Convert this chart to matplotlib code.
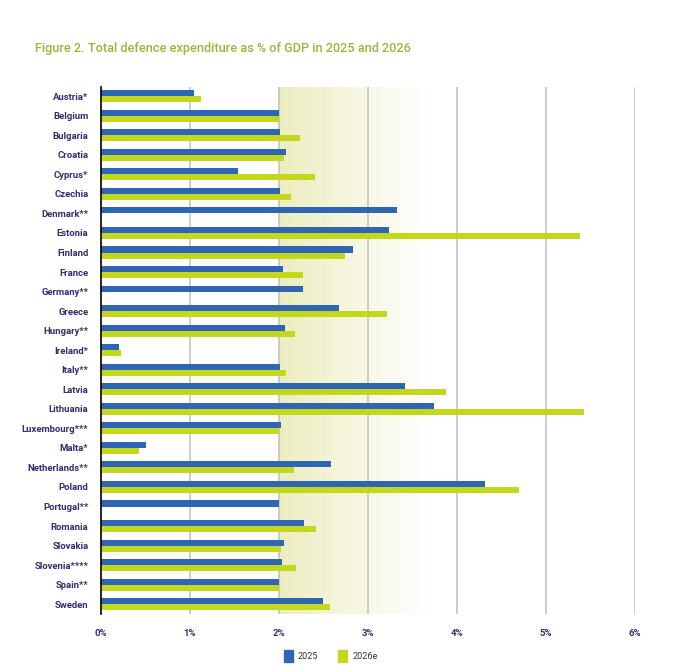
import numpy as np
import matplotlib.pyplot as plt
from matplotlib.colors import LinearSegmentedColormap
from matplotlib.patches import Patch

countries = ["Austria*", "Belgium", "Bulgaria", "Croatia", "Cyprus*", "Czechia",
             "Denmark**", "Estonia", "Finland", "France", "Germany**", "Greece",
             "Hungary**", "Ireland*", "Italy**", "Latvia", "Lithuania",
             "Luxembourg***", "Malta*", "Netherlands**", "Poland", "Portugal**",
             "Romania", "Slovakia", "Slovenia****", "Spain**", "Sweden"]
gdp_2025 = [1.05, 2.00, 2.01, 2.08, 1.54, 2.01, 3.33, 3.24, 2.83, 2.05, 2.27, 2.67,
            2.07, 0.20, 2.01, 3.42, 3.74, 2.02, 0.51, 2.59, 4.32, 2.00, 2.28, 2.06,
            2.04, 2.00, 2.50]
# NaN = no 2026 estimate shown
gdp_2026 = [1.12, 2.00, 2.24, 2.06, 2.40, 2.14, np.nan, 5.38, 2.74, 2.27, np.nan, 3.21,
            2.18, 0.23, 2.08, 3.88, 5.43, 2.00, 0.43, 2.17, 4.70, np.nan, 2.42, 2.02,
            2.19, 2.00, 2.57]
xticks = [0, 1, 2, 3, 4, 5, 6]
xticklabels = ["0%", "1%", "2%", "3%", "4%", "5%", "6%"]

blue = "#2F66B3"
green = "#C3D81C"
navy = "#2E2F72"
title_col = "#9BB53A"

plt.rcParams['font.family'] = ['Roboto', 'DejaVu Sans']

fig = plt.figure(figsize=(6.82, 6.71), dpi=100)
ax = fig.add_axes([0.148, 0.085, 0.783, 0.785])

y = np.arange(len(countries))
h = 0.31
ax.barh(y - h / 2, gdp_2025, height=h, color=blue, zorder=3)
ax.barh(y + h / 2, np.nan_to_num(gdp_2026), height=h, color=green, zorder=3)

ylo, yhi = 26.5, -0.46
# shaded band 2% -> ~3.7% fading to white
cmap = LinearSegmentedColormap.from_list("band", ["#ECEDBF", "#F7F7E2", "#FFFFFF"])
grad = np.linspace(0, 1, 256).reshape(1, -1)
ax.imshow(grad, cmap=cmap, aspect="auto", extent=[2, 3.7, ylo, yhi], zorder=0)

ax.set_xlim(0, 6)
ax.set_ylim(ylo, yhi)
for gx in xticks[1:]:
    ax.axvline(gx, color="#C4C4C4", lw=1.2, zorder=1)

ax.set_yticks(y)
ax.set_yticklabels(countries, fontsize=6.8, fontweight="bold", color=navy)
ax.set_xticks(xticks)
ax.set_xticklabels(xticklabels, fontsize=6.8, fontweight="bold", color=navy)
ax.tick_params(axis="y", length=0, pad=9)
ax.tick_params(axis="x", length=0, pad=11)
for s in ["top", "right", "bottom"]:
    ax.spines[s].set_visible(False)
ax.spines["left"].set_color("black")
ax.spines["left"].set_linewidth(1.2)
ax.spines["left"].set_zorder(4)

fig.text(0.052, 0.922, "Figure 2. Total defence expenditure as % of GDP in 2025 and 2026",
         fontsize=9.2, color=title_col, fontweight="medium")

handles = [Patch(color=blue, label="2025"), Patch(color=green, label="2026e")]
fig.legend(handles=handles, loc="center", bbox_to_anchor=(0.485, 0.022), ncol=2,
           frameon=False, fontsize=6.5, handlelength=1.0, handleheight=1.6,
           columnspacing=2.2, handletextpad=0.6, labelcolor="#333333")

fig.savefig("out.png", dpi=100)
